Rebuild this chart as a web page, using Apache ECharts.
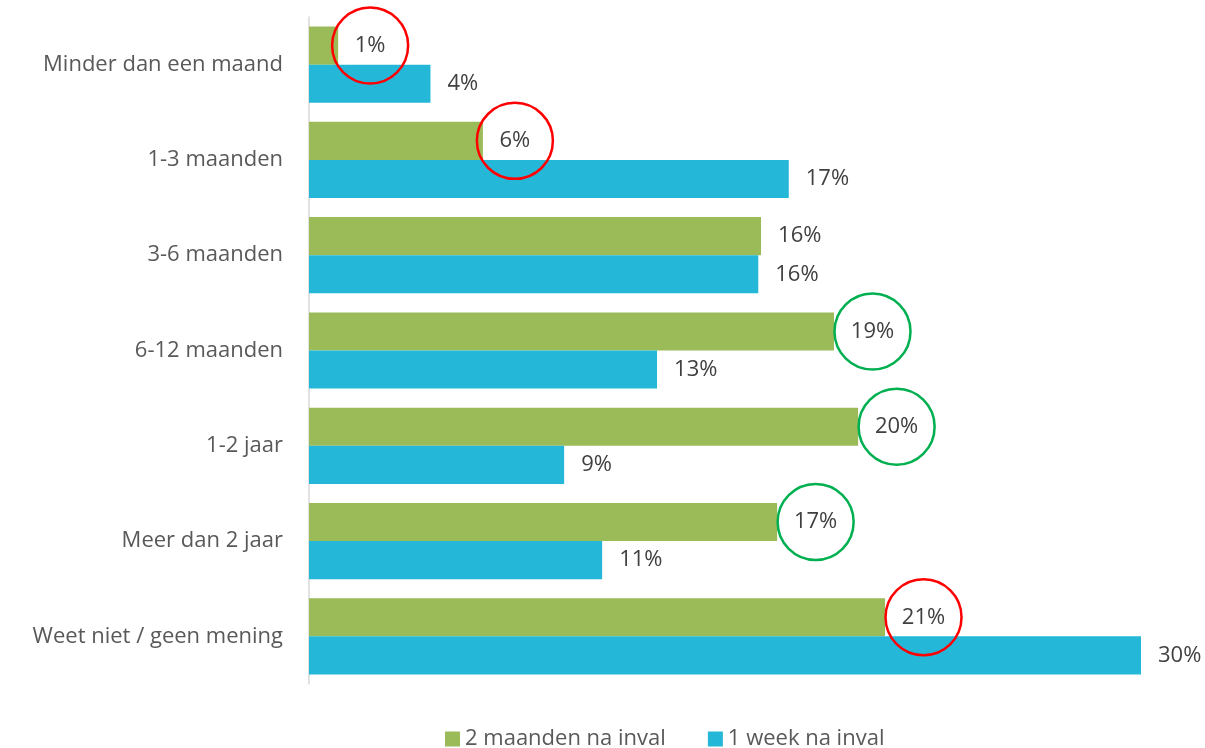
<!DOCTYPE html>
<html>
<head>
<meta charset="utf-8">
<script src="https://cdn.jsdelivr.net/npm/echarts@6/dist/echarts.min.js"></script>
<style>html,body{margin:0;padding:0;background:#fff;}#c{width:1205px;height:748px;}</style>
</head>
<body>
<div id="c"></div>
<script>
var categories = ['Minder dan een maand', '1-3 maanden', '3-6 maanden', '6-12 maanden', '1-2 jaar', 'Meer dan 2 jaar', 'Weet niet / geen mening'];
var seriesNames = ['2 maanden na inval', '1 week na inval'];
var twoMonths = [1.05, 6.27, 16.3, 18.93, 19.8, 16.88, 20.77];
var oneWeek = [4.38, 17.3, 16.2, 12.55, 9.2, 10.57, 30];
// circled annotations on the green series: category index -> circle colour
var circledTwoMonths = {0: '#FF0000', 1: '#FF0000', 3: '#00B050', 4: '#00B050', 5: '#00B050', 6: '#FF0000'};

var FONT = '"Open Sans", "Noto Sans", sans-serif';
var FS = 22;

function fmt(p) { return Math.round(p.value) + '%'; }

var greenData = twoMonths.map(function (v, i) {
  var c = circledTwoMonths[i];
  if (!c) return v;
  var txt = Math.round(v) + '%';
  var tw = txt.length === 2 ? 30 : 43;
  return {
    value: v,
    label: {
      align: 'center',
      verticalAlign: 'middle',
      distance: 17 + tw / 2,
      width: 76,
      height: 76,
      lineHeight: 76,
      borderColor: c,
      borderWidth: 2.5,
      borderRadius: 40,
      padding: 0
    }
  };
});

var chart = echarts.init(document.getElementById('c'), null, {renderer: 'canvas'});
chart.setOption({
  animation: false,
  backgroundColor: '#ffffff',
  grid: {left: 309, right: 64, top: 17, bottom: 64, containLabel: false},
  legend: {
    top: 723,
    left: 440,
    itemWidth: 15,
    itemHeight: 15,
    itemGap: 42,
    icon: 'rect',
    textStyle: {fontFamily: FONT, fontSize: FS, color: '#595959'},
    data: seriesNames
  },
  xAxis: {
    type: 'value',
    min: 0,
    max: 30,
    show: false
  },
  yAxis: {
    type: 'category',
    inverse: true,
    data: categories,
    axisLine: {show: true, lineStyle: {color: '#D9D9D9', width: 1.5}},
    axisTick: {show: false},
    axisLabel: {fontFamily: FONT, fontSize: FS, color: '#595959', margin: 26}
  },
  series: [
    {
      name: seriesNames[0],
      type: 'bar',
      data: greenData,
      barGap: '0%',
      barCategoryGap: '20%',
      itemStyle: {color: '#9BBB59'},
      label: {show: true, position: 'right', distance: 17, formatter: fmt, fontFamily: FONT, fontSize: FS, color: '#404040'}
    },
    {
      name: seriesNames[1],
      type: 'bar',
      data: oneWeek,
      barGap: '0%',
      barCategoryGap: '20%',
      itemStyle: {color: '#25B7D8'},
      label: {show: true, position: 'right', distance: 17, formatter: fmt, fontFamily: FONT, fontSize: FS, color: '#404040'}
    }
  ]
});
</script>
</body>
</html>
